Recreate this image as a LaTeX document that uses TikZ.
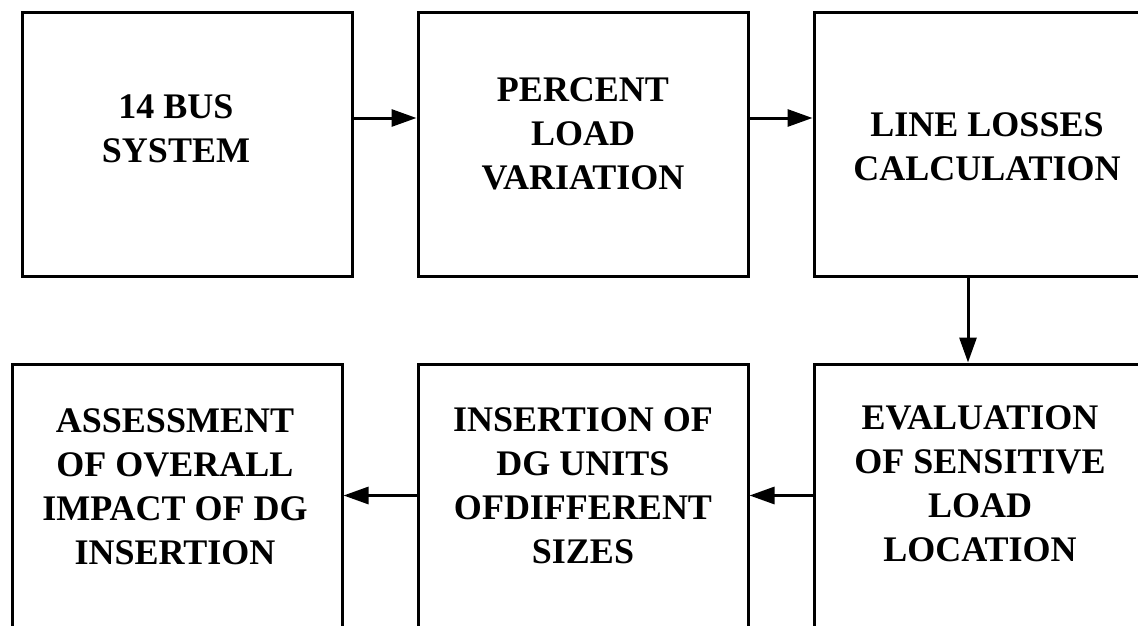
\documentclass[tikz,border=0pt]{standalone}
\usepackage{fontspec}
\setmainfont{Liberation Serif}
\usetikzlibrary{arrows.meta}

\tikzset{
    block/.style={draw, line width=3pt, minimum width=330pt, minimum height=263pt, inner sep=0pt},
    blocktext/.style={align=center, inner sep=0pt, font=\fontsize{36}{44}\selectfont\bfseries},
    flow/.style={line width=3pt, -{Triangle[length=25pt, width=17pt]}}
}

\begin{document}
\begin{tikzpicture}[x=1pt, y=-1pt]
    \pgfmathsetmacro\top{144.5};
    \pgfmathsetmacro\bot{495.5};
    \clip (0, 0) rectangle (1138, 626);

    \node[block] (bus) at (187.5, \top) {};
    \node[block] (load) at (583, \top) {};
    \node[block] (loss) at (979, \top) {};
    \node[block] (sens) at (979, \bot) {};
    \node[block] (dg) at (583, \bot) {};
    \node[block] (impact) at (177, \bot) {};

    \node[blocktext] (bustext) at (176, 129) {14 BUS\\SYSTEM};
    \node[blocktext] (loadtext) at (583, 134) {PERCENT\\LOAD\\VARIATION};
    \node[blocktext] (losstext) at (987, 147) {LINE LOSSES\\CALCULATION};
    \node[blocktext] (senstext) at (980, 484) {EVALUATION\\OF SENSITIVE\\LOAD\\LOCATION};
    \node[blocktext] (dgtext) at (583, 485.5) {INSERTION OF\\DG UNITS\\OFDIFFERENT\\SIZES};
    \node[blocktext] (impacttext) at (175, 487) {ASSESSMENT\\OF OVERALL\\IMPACT OF DG\\INSERTION};

    % top row runs left to right, bottom row back again
    \draw[flow] ([yshift=26.5pt]bus.east) -- ([yshift=26.5pt]load.west);
    \draw[flow] ([yshift=26.5pt]load.east) -- ([yshift=26.5pt]loss.west);
    \draw[flow] ([xshift=-11pt]loss.south) -- ([xshift=-11pt]sens.north);
    \draw[flow] (sens.west) -- (dg.east);
    \draw[flow] (dg.west) -- (impact.east);
\end{tikzpicture}
\end{document}
